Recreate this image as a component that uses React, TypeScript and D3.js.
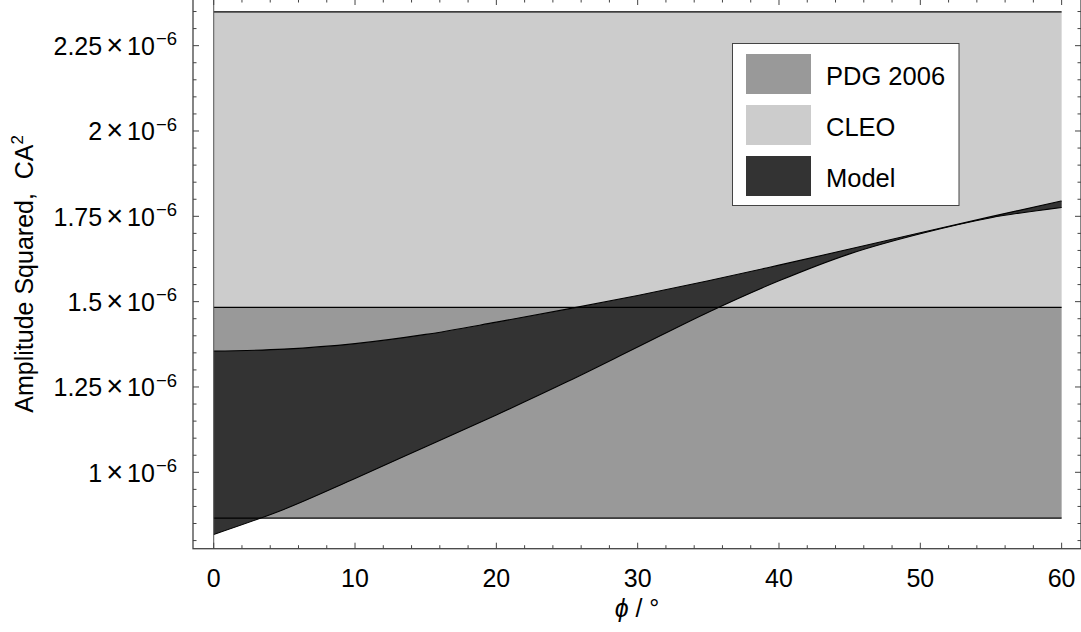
import React from "react";
import * as d3 from "d3";

// ---- data (values in units of 10^-6) ----
const phi = [0, 5, 10, 15, 20, 25, 30, 35, 40, 45, 50, 55, 60];
const modelUpper = [1.355, 1.361, 1.377, 1.404, 1.44, 1.478, 1.518, 1.561, 1.607, 1.654, 1.702, 1.749, 1.795];
const modelLower = [0.818, 0.892, 0.982, 1.075, 1.168, 1.265, 1.367, 1.469, 1.561, 1.64, 1.699, 1.746, 1.776];
const pdgBand = [0.866, 1.483];
const cleoBand = [1.483, 2.349];
const phiRange = [0, 60];
const xMajorTicks = [0, 10, 20, 30, 40, 50, 60];
const xTickLabels = ["0", "10", "20", "30", "40", "50", "60"];
const yMajorTicks = [1, 1.25, 1.5, 1.75, 2, 2.25];
const yTickLabels = ["1", "1.25", "1.5", "1.75", "2", "2.25"];
const legendLabels = ["PDG 2006", "CLEO", "Model"];
const legendColors = ["#999999", "#cccccc", "#333333"];

const W = 1081;
const H = 632;
const FRAME = { left: 193, right: 1081, top: -1, bottom: 548.7 };
const FONT = "'Liberation Sans', Arial, Helvetica, sans-serif";
const AXIS_COLOR = "#444";

export default function App() {
  const x = d3.scaleLinear().domain([-1.465, 61.37]).range([FRAME.left, FRAME.right]);
  const y = d3.scaleLinear().domain([0.7762, 2.3867]).range([FRAME.bottom, FRAME.top]);

  const xMinor = d3.range(0, 61, 2).filter((v) => v % 10 !== 0);
  const yMinor = d3.range(16, 48).map((i) => i * 0.05).filter((v) => Math.abs(v * 4 - Math.round(v * 4)) > 1e-6);

  const model = phi.map((p, i) => ({ p, hi: modelUpper[i], lo: modelLower[i] }));
  const area = d3
    .area<{ p: number; hi: number; lo: number }>()
    .x((d) => x(d.p))
    .y0((d) => y(d.lo))
    .y1((d) => y(d.hi))
    .curve(d3.curveMonotoneX);
  const upperLine = d3
    .line<{ p: number; hi: number; lo: number }>()
    .x((d) => x(d.p))
    .y((d) => y(d.hi))
    .curve(d3.curveMonotoneX);
  const lowerLine = d3
    .line<{ p: number; hi: number; lo: number }>()
    .x((d) => x(d.p))
    .y((d) => y(d.lo))
    .curve(d3.curveMonotoneX);

  const x0 = x(phiRange[0]);
  const x1 = x(phiRange[1]);

  const legend = { x: 732.5, y: 43.5, w: 226.5, h: 162 };

  return (
    <svg
      width={W}
      height={H}
      style={{ position: "absolute", left: 0, top: 0, background: "#fff" }}
      fontFamily={FONT}
    >
      {/* bands */}
      <rect x={x0} y={y(cleoBand[1])} width={x1 - x0} height={y(cleoBand[0]) - y(cleoBand[1])} fill="#cccccc" />
      <rect x={x0} y={y(pdgBand[1])} width={x1 - x0} height={y(pdgBand[0]) - y(pdgBand[1])} fill="#999999" />
      <path d={area(model) || ""} fill="#333333" />
      {/* band edges */}
      {[cleoBand[1], pdgBand[1], pdgBand[0]].map((v, i) => (
        <line key={"e" + i} x1={x0} x2={x1} y1={y(v)} y2={y(v)} stroke="#000" strokeWidth={1.2} />
      ))}
      <path d={upperLine(model) || ""} fill="none" stroke="#000" strokeWidth={1.1} />
      <path d={lowerLine(model) || ""} fill="none" stroke="#000" strokeWidth={1.1} />

      {/* axis at phi = 0 */}
      <line x1={x(0)} x2={x(0)} y1={FRAME.top} y2={FRAME.bottom} stroke="#555" strokeWidth={1} />

      {/* frame */}
      <rect
        x={FRAME.left}
        y={FRAME.top}
        width={FRAME.right - FRAME.left}
        height={FRAME.bottom - FRAME.top}
        fill="none"
        stroke={AXIS_COLOR}
        strokeWidth={1.3}
      />

      {/* x ticks */}
      {xMajorTicks.map((t) => (
        <g key={"xm" + t}>
          <line x1={x(t)} x2={x(t)} y1={FRAME.bottom} y2={FRAME.bottom - 6} stroke={AXIS_COLOR} />
          <line x1={x(t)} x2={x(t)} y1={FRAME.top} y2={FRAME.top + 6} stroke={AXIS_COLOR} />
        </g>
      ))}
      {xMinor.map((t) => (
        <g key={"xn" + t}>
          <line x1={x(t)} x2={x(t)} y1={FRAME.bottom} y2={FRAME.bottom - 3.5} stroke={AXIS_COLOR} />
          <line x1={x(t)} x2={x(t)} y1={FRAME.top} y2={FRAME.top + 3.5} stroke={AXIS_COLOR} />
        </g>
      ))}
      {xMajorTicks.map((t, i) => (
        <text key={"xl" + t} x={x(t)} y={587} textAnchor="middle" fontSize={25} fill="#000">
          {xTickLabels[i]}
        </text>
      ))}

      {/* y ticks */}
      {yMajorTicks.map((t) => (
        <g key={"ym" + t}>
          <line x1={FRAME.left} x2={FRAME.left + 6} y1={y(t)} y2={y(t)} stroke={AXIS_COLOR} />
          <line x1={FRAME.right} x2={FRAME.right - 6} y1={y(t)} y2={y(t)} stroke={AXIS_COLOR} />
        </g>
      ))}
      {yMinor.map((t) => (
        <g key={"yn" + t.toFixed(2)}>
          <line x1={FRAME.left} x2={FRAME.left + 3.5} y1={y(t)} y2={y(t)} stroke={AXIS_COLOR} />
          <line x1={FRAME.right} x2={FRAME.right - 3.5} y1={y(t)} y2={y(t)} stroke={AXIS_COLOR} />
        </g>
      ))}
      {yMajorTicks.map((t, i) => (
        <text key={"yl" + t} x={177} y={y(t) + 9.3} textAnchor="end" fontSize={25} fill="#000">
          <tspan>{yTickLabels[i]}</tspan>
          <tspan dx={4} fontSize={29}>×</tspan>
          <tspan dx={4}>10</tspan>
          <tspan dx={1} dy={-9.5} fontSize={18.5}>
            −6
          </tspan>
        </text>
      ))}

      {/* axis labels */}
      <text x={637} y={617} textAnchor="middle" fontSize={25} fill="#000">
        <tspan fontStyle="italic">ϕ</tspan>
        <tspan>{"\u00a0/\u00a0°"}</tspan>
      </text>
      <text
        transform={`translate(33, ${(FRAME.top + FRAME.bottom) / 2}) rotate(-90)`}
        textAnchor="middle"
        fontSize={25}
        fill="#000"
      >
        <tspan>{"Amplitude Squared,\u00a0\u00a0CA"}</tspan>
        <tspan dy={-10} fontSize={17}>2</tspan>
      </text>

      {/* legend */}
      <rect x={legend.x} y={legend.y} width={legend.w} height={legend.h} fill="#fff" stroke="#444" strokeWidth={1} />
      {legendLabels.map((lab, i) => (
        <g key={lab}>
          <rect x={746} y={54 + i * 51} width={65} height={40} fill={legendColors[i]} />
          <text x={826} y={84.5 + i * 51} fontSize={25.5} fill="#000">
            {lab}
          </text>
        </g>
      ))}
    </svg>
  );
}
